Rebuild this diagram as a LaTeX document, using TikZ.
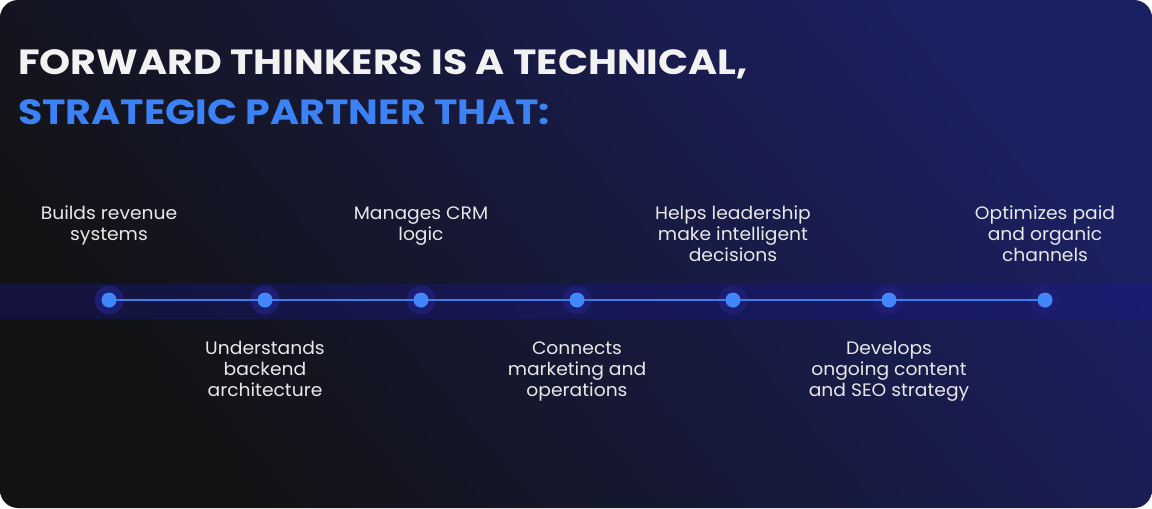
\documentclass[tikz,border=0pt]{standalone}
\usepackage{fontspec}
\setmainfont{Poppins}
\newfontfamily\ftttlfont[FakeStretch=1.13]{Poppins}
\newfontfamily\ftlblfont[FakeStretch=1.04]{Poppins}
\usetikzlibrary{positioning}
\definecolor{ftdark}{RGB}{18,18,18}
\definecolor{ftmid}{RGB}{20,21,42}
\definecolor{ftnavy}{RGB}{27,32,98}
\definecolor{ftband}{RGB}{24,22,140}
\definecolor{fthalo}{RGB}{29,30,114}
\definecolor{ftdot}{RGB}{66,135,250}
\definecolor{ftline}{RGB}{61,126,232}
\definecolor{fttext}{RGB}{232,232,232}
\definecolor{ftblue}{RGB}{61,130,245}
\definecolor{ftwhite}{RGB}{242,242,242}
\tikzset{
  halo/.style={circle,fill=fthalo,minimum size=29pt,inner sep=0pt},
  dotmark/.style={circle,fill=ftdot,minimum size=15pt,inner sep=0pt},
  lbl/.style={text=fttext,font=\ftlblfont\fontsize{18}{21}\selectfont,align=center,inner sep=0pt,anchor=base},
  ttl/.style={font=\ftttlfont\fontsize{35}{40}\selectfont\bfseries,anchor=base west,inner sep=0pt},
}

\begin{document}
\begin{tikzpicture}[x=1pt,y=-1pt]
  \useasboundingbox (0,0) rectangle (1152,509);
  % card
  \shade[rounded corners=18pt,left color=ftdark,middle color=ftmid,right color=ftnavy,shading angle=130]
    (0,0) rectangle (1152,508);
  % band
  \fill[ftband,opacity=.36] (0,284) rectangle (1152,319);
  % title
  \node[ttl,text=ftwhite] (t1) at (18,74) {FORWARD THINKERS IS A TECHNICAL,};
  \node[ttl,text=ftblue] (t2) at (18,124) {STRATEGIC PARTNER THAT:};
  % timeline
  \foreach \i in {1,...,7}
    \node[halo] (h\i) at ({109+156*(\i-1)},300) {};
  \draw[ftline,line width=1.6pt] (h1.center) -- (h7.center);
  \foreach \i in {1,...,7}
    \node[dotmark] (d\i) at (h\i) {};
  % labels above (base = last line)
  \node[lbl] (l1) at (109,240) {Builds revenue\\systems};
  \node[lbl] (l3) at (421,240) {Manages CRM\\logic};
  \node[lbl] (l5) at (733,261) {Helps leadership\\make intelligent\\decisions};
  \node[lbl] (l7) at (1045,261) {Optimizes paid\\and organic\\channels};
  % labels below
  \node[lbl] (l2) at (265,396) {Understands\\backend\\architecture};
  \node[lbl] (l4) at (577,396) {Connects\\marketing and\\operations};
  \node[lbl] (l6) at (889,396) {Develops\\ongoing content\\and SEO strategy};
\end{tikzpicture}
\end{document}
